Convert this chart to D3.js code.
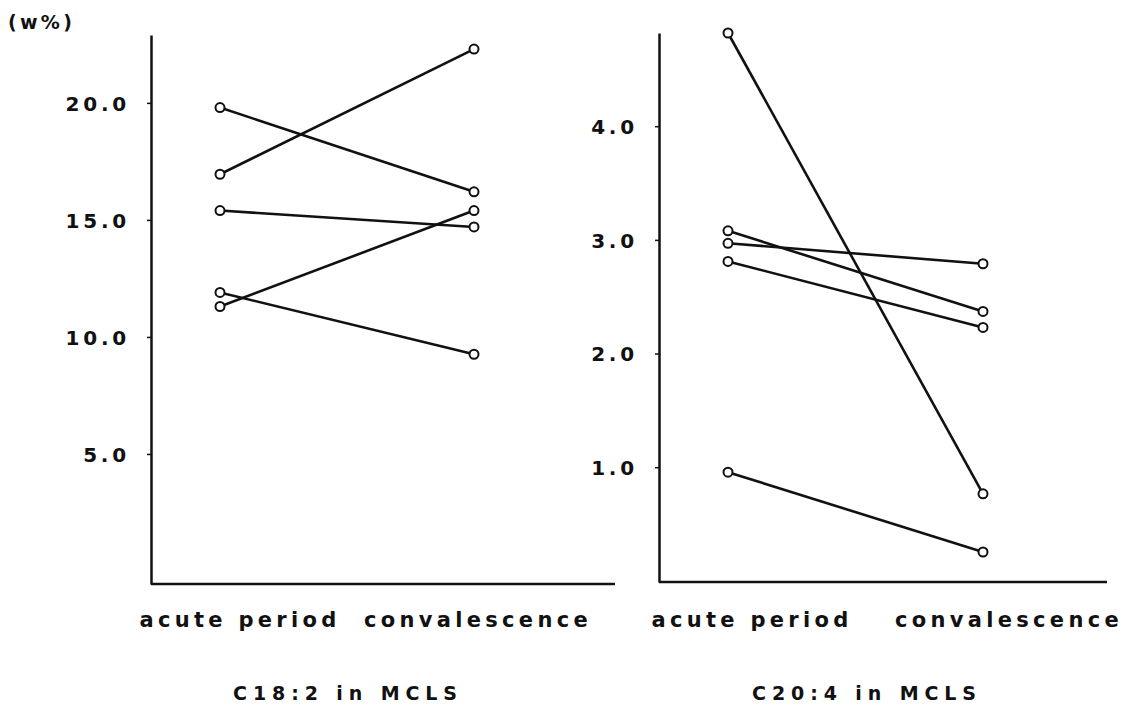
<!DOCTYPE html>
<html>
<head>
<meta charset="utf-8">
<script src="https://cdn.jsdelivr.net/npm/d3@7"></script>
<style>
  html, body { margin: 0; padding: 0; background: #fff; }
  svg { display: block; }
  text { font-family: "DejaVu Sans", "Liberation Sans", Arial, sans-serif; font-weight: bold; fill: #111; }
</style>
</head>
<body>
<svg id="chart" width="1139" height="708"></svg>
<script>
// ---- data ----
const categories = ["acute period", "convalescence"];

const c18Acute = [19.8, 16.95, 15.4, 11.9, 11.3];
const c18Conv  = [16.2, 22.3, 14.7, 9.26, 15.4];
const c18Ticks = [5, 10, 15, 20];

const c20Acute = [4.82, 3.08, 2.97, 2.81, 0.956];
const c20Conv  = [0.766, 2.37, 2.79, 2.23, 0.254];
const c20Ticks = [1, 2, 3, 4];

const titles = ["C18:2 in MCLS", "C20:4 in MCLS"];
const unitLabel = "(w%)";

// ---- drawing ----
const svg = d3.select("#chart");
const fmt = d3.format(".1f");
const FONT = "'DejaVu Sans', 'Liberation Sans', Arial, sans-serif";

const panels = [
  { acute: c18Acute, conv: c18Conv, ticks: c18Ticks, title: titles[0],
    domain: [-0.556, 22.9], yRange: [584, 35], xAxis: [151, 615], pts: [220, 474],
    labelX: [238, 476], titleX: 345 },
  { acute: c20Acute, conv: c20Conv, ticks: c20Ticks, title: titles[1],
    domain: [-0.01, 4.82], yRange: [582, 33], xAxis: [659, 1107], pts: [728, 983],
    labelX: [750, 1007], titleX: 864 }
];

panels.forEach(p => {
  const y = d3.scaleLinear().domain(p.domain).range(p.yRange);
  const x = d3.scalePoint().domain(categories).range(p.pts);
  const g = svg.append("g");

  // y axis
  const yAxis = d3.axisLeft(y).tickValues(p.ticks).tickFormat(fmt).tickSize(4).tickSizeOuter(0);
  const ya = g.append("g").attr("transform", `translate(${p.xAxis[0]},0)`).call(yAxis);
  ya.select(".domain").attr("stroke", "#111").attr("stroke-width", 2.5);
  ya.selectAll(".tick line").attr("stroke", "#111").attr("stroke-width", 1.5);
  ya.selectAll(".tick text")
    .attr("x", -21)
    .attr("dy", "0.36em")
    .style("font-size", "20px")
    .style("font-family", FONT)
    .style("font-weight", "bold")
    .style("letter-spacing", "3.8px")
    .attr("fill", "#111");

  // x axis baseline
  g.append("line")
    .attr("x1", p.xAxis[0]).attr("x2", p.xAxis[1])
    .attr("y1", y(p.domain[0])).attr("y2", y(p.domain[0]))
    .attr("stroke", "#111").attr("stroke-width", 2.5);

  // category labels
  g.selectAll("text.cat").data(categories).enter().append("text")
    .attr("class", "cat")
    .attr("x", (d, i) => p.labelX[i] + 2)
    .attr("y", 627)
    .attr("text-anchor", "middle")
    .style("font-size", "21px")
    .style("letter-spacing", "4.3px")
    .text(d => d);

  // title
  g.append("text")
    .attr("x", p.titleX + 3).attr("y", 700)
    .attr("text-anchor", "middle")
    .style("font-size", "19px")
    .style("letter-spacing", "5.9px")
    .text(p.title);

  // lines
  const pairs = p.acute.map((a, i) => [[categories[0], a], [categories[1], p.conv[i]]]);
  const line = d3.line().x(d => x(d[0])).y(d => y(d[1]));
  g.selectAll("path.series").data(pairs).enter().append("path")
    .attr("class", "series")
    .attr("d", line)
    .attr("fill", "none").attr("stroke", "#111").attr("stroke-width", 2.6);

  // points
  const pts = pairs.flat();
  g.selectAll("circle").data(pts).enter().append("circle")
    .attr("cx", d => x(d[0])).attr("cy", d => y(d[1]))
    .attr("r", 4.5).attr("fill", "#fff").attr("stroke", "#111").attr("stroke-width", 2);
});

// unit label
svg.append("text").attr("x", 8).attr("y", 29)
  .style("font-size", "19px").style("letter-spacing", "3.3px")
  .text(unitLabel);
</script>
</body>
</html>
